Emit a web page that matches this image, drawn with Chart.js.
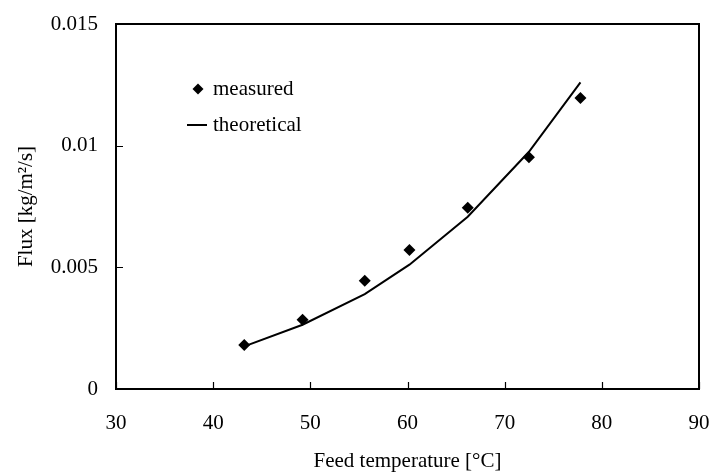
<!DOCTYPE html>
<html>
<head>
<meta charset="utf-8">
<script src="https://cdn.jsdelivr.net/npm/chart.js@4"></script>
<style>
  html, body { margin: 0; padding: 0; background: #fff; }
  #wrap { width: 713px; height: 474px; }
</style>
</head>
<body>
<div id="wrap"><canvas id="flux-chart"></canvas></div>
<script>
// values
var measuredTemp = [43.2, 49.2, 55.6, 60.2, 66.2, 72.5, 77.8];
var measuredFlux = [0.00181, 0.00285, 0.00445, 0.00571, 0.00745, 0.00952, 0.01196];
var theoryTemp = [43.2, 49.2, 55.6, 60.2, 66.2, 72.5, 77.8];
var theoryFlux = [0.00175, 0.00264, 0.0039, 0.00511, 0.00708, 0.00975, 0.0126];
var xTicks = [30, 40, 50, 60, 70, 80, 90];
var yTicks = [0, 0.005, 0.01, 0.015];
var yTickLabels = ['0', '0.005', '0.01', '0.015'];

var FONT = "'Liberation Serif', 'Times New Roman', serif";
var FSIZE = 21;

function toPoints(xs, ys) {
	return xs.map(function (x, i) { return {x: x, y: ys[i]}; });
}

// frame, inward ticks and the in-plot legend
var framePlugin = {
	id: 'frame',
	afterDraw: function (chart) {
		var ctx = chart.ctx;
		var a = chart.chartArea;
		var xs = chart.scales.x, ys = chart.scales.y;
		ctx.save();
		ctx.strokeStyle = '#000';
		ctx.lineWidth = 2;
		ctx.strokeRect(a.left, a.top, a.right - a.left, a.bottom - a.top);

		ctx.beginPath();
		xTicks.forEach(function (v) {
			var px = Math.round(xs.getPixelForValue(v)) + 0.5;
			ctx.moveTo(px, a.bottom);
			ctx.lineTo(px, a.bottom - 7);
		});
		yTicks.forEach(function (v) {
			var py = Math.round(ys.getPixelForValue(v)) + 0.5;
			ctx.moveTo(a.left, py);
			ctx.lineTo(a.left + 7, py);
		});
		ctx.lineWidth = 1.2;
		ctx.stroke();

		// legend
		var lx = a.left + 82, ly = a.top + 65;
		ctx.fillStyle = '#000';
		ctx.beginPath();
		ctx.moveTo(lx, ly - 5.5);
		ctx.lineTo(lx + 5.5, ly);
		ctx.lineTo(lx, ly + 5.5);
		ctx.lineTo(lx - 5.5, ly);
		ctx.closePath();
		ctx.fill();

		ctx.beginPath();
		ctx.moveTo(lx - 11, ly + 36);
		ctx.lineTo(lx + 9, ly + 36);
		ctx.lineWidth = 2;
		ctx.stroke();

		ctx.font = FSIZE + 'px ' + FONT;
		ctx.textBaseline = 'middle';
		ctx.textAlign = 'left';
		ctx.fillText(chart.data.datasets[0].label, lx + 15, ly);
		ctx.fillText(chart.data.datasets[1].label, lx + 15, ly + 36);
		ctx.restore();
	}
};

new Chart('flux-chart', {
	type: 'scatter',
	data: {
		datasets: [
			{
				label: 'measured',
				data: toPoints(measuredTemp, measuredFlux),
				pointStyle: 'rectRot',
				pointRadius: 6,
				backgroundColor: '#000',
				borderColor: '#000',
				borderWidth: 0,
				showLine: false
			},
			{
				label: 'theoretical',
				data: toPoints(theoryTemp, theoryFlux),
				showLine: true,
				borderColor: '#000',
				borderWidth: 2,
				pointRadius: 0,
				tension: 0
			}
		]
	},
	options: {
		responsive: true,
		maintainAspectRatio: false,
		animation: false,
		layout: { padding: { top: 24, right: 14, left: 0, bottom: 0 } },
		plugins: {
			legend: { display: false },
			tooltip: { enabled: false }
		},
		scales: {
			x: {
				type: 'linear',
				min: 30,
				max: 90,
				afterBuildTicks: function (s) { s.ticks = xTicks.map(function (v) { return {value: v}; }); },
				afterFit: function (s) {
					s.height = 85;
					s.paddingLeft = 0;
					s.paddingRight = 0;
				},
				grid: { display: false, drawTicks: false },
				border: { display: false },
				ticks: {
					color: '#000',
					padding: 22,
					maxRotation: 0,
					font: { family: FONT, size: FSIZE }
				},
				title: {
					display: true,
					text: 'Feed temperature [°C]',
					color: '#000',
					padding: { top: 13, bottom: 0 },
					font: { family: FONT, size: FSIZE }
				}
			},
			y: {
				type: 'linear',
				min: 0,
				max: 0.015,
				afterBuildTicks: function (s) { s.ticks = yTicks.map(function (v) { return {value: v}; }); },
				afterFit: function (s) {
					s.width = 116;
					s.paddingTop = 0;
					s.paddingBottom = 0;
				},
				grid: { display: false, drawTicks: false },
				border: { display: false },
				ticks: {
					color: '#000',
					padding: 18,
					font: { family: FONT, size: FSIZE },
					callback: function (v) {
						var i = yTicks.indexOf(v);
						return i >= 0 ? yTickLabels[i] : '';
					}
				},
				title: {
					display: true,
					text: 'Flux [kg/m²/s]',
					color: '#000',
					padding: { top: 14, bottom: 0 },
					font: { family: FONT, size: FSIZE }
				}
			}
		}
	},
	plugins: [framePlugin]
});
</script>
</body>
</html>
